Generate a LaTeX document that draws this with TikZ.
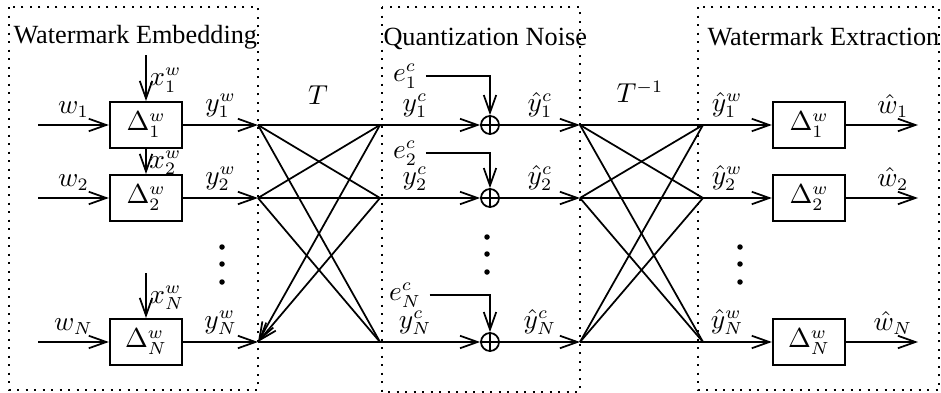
\documentclass[tikz,border=0pt]{standalone}
\usepackage{amsmath,amssymb}
\usepackage{fontspec}
\setmainfont{Liberation Serif}
\usepackage{tikz}
\usetikzlibrary{arrows.meta,positioning,calc}
\tikzset{
  blk/.style={draw,line width=0.7pt,minimum width=29pt,minimum height=18.5pt,%
    inner sep=0pt},
  sum/.style={draw,circle,line width=0.7pt,minimum size=7.2pt,inner sep=0pt},
  sig/.style={-{Straight Barb[length=7pt,width=5pt,line width=0.7pt]},line width=0.7pt},
  wire/.style={line width=0.7pt},
  frame/.style={line width=0.8pt,dash pattern=on 0.8pt off 2.6pt},
  title/.style={anchor=base west,inner sep=0pt},
  lbl/.style={above,inner sep=2.5pt},
}

\begin{document}
\begin{tikzpicture}[x=0.4pt,y=-0.4pt,font=\fontsize{10.5}{12.6}\selectfont]
\useasboundingbox (0,0) rectangle (941,393);
% dotted frames
\draw[frame] (9,7) rectangle (258,390);
\draw[frame] (382,7) rectangle (580,392);
\draw[frame] (698,7) rectangle (939,390);
\node[title] (tEmb) at (13,43) {Watermark Embedding};
\node[title] (tNoise) at (383,45) {Quantization Noise};
\node[title] (tExt) at (707,45) {Watermark Extraction};
\node (tT) at (318,95) {$T$};
\node (tTinv) at (640,92) {$T^{-1}$};
% one row per branch
\foreach \i/\y/\xs/\ey in {1/125/55/76, 2/198/149/153, N/342/273/295} {
  \coordinate (win\i) at (38,\y);
  \coordinate (xin\i) at (146,\xs);
  \node[blk] (emb\i) at (146,\y) {$\Delta^w_{\i}$};
  \coordinate (a\i) at (258,\y);
  \coordinate (b\i) at (380,\y);
  \node[sum] (s\i) at (490,\y) {};
  \node (e\i) at (405,\ey) {$e^c_{\i}$};
  \coordinate (c\i) at (580,\y);
  \coordinate (d\i) at (703,\y);
  \node[blk] (ext\i) at (809,\y) {$\Delta^w_{\i}$};
  \coordinate (wout\i) at (918,\y);
  \draw[sig] (win\i) -- (emb\i) node[midway,lbl] {$w_{\i}$};
  \draw[sig] (xin\i) -- (emb\i) node[pos=0.55,right,inner sep=1pt] {$x^w_{\i}$};
  \draw[sig] (emb\i) -- (a\i) node[midway,lbl] {$y^w_{\i}$};
  \draw[wire] (a\i) -- (b\i);
  \draw[sig] (b\i) -- (s\i) node[pos=0.35,lbl] {$y^c_{\i}$};
  \draw[wire] (s\i.north) -- (s\i.south) (s\i.west) -- (s\i.east);
  \draw[sig] (e\i.east) -| (s\i.north);
  \draw[sig] (s\i) -- (c\i) node[midway,lbl] {$\hat{y}^c_{\i}$};
  \draw[wire] (c\i) -- (d\i);
  \draw[sig] (d\i) -- (ext\i) node[pos=0.35,lbl] {$\hat{y}^w_{\i}$};
  \draw[sig] (ext\i) -- (wout\i) node[pos=0.65,lbl] {$\hat{w}_{\i}$};
}
% transform T
\foreach \p/\q in {1/2,1/N,2/1,2/N}
  \draw[wire] (a\p) -- (b\q);
\foreach \p in {1,2}
  \draw[sig] (b\p) -- (aN);
% inverse transform
\foreach \p/\q in {1/2,1/N,2/1,2/N,N/1,N/2}
  \draw[wire] (c\p) -- (d\q);
% dots
\foreach \x/\y in {222/247,487/237,740/247}
  \foreach \dy in {0,17,35}
    \fill (\x,\y+\dy) circle (1.1pt);
\end{tikzpicture}
\end{document}
